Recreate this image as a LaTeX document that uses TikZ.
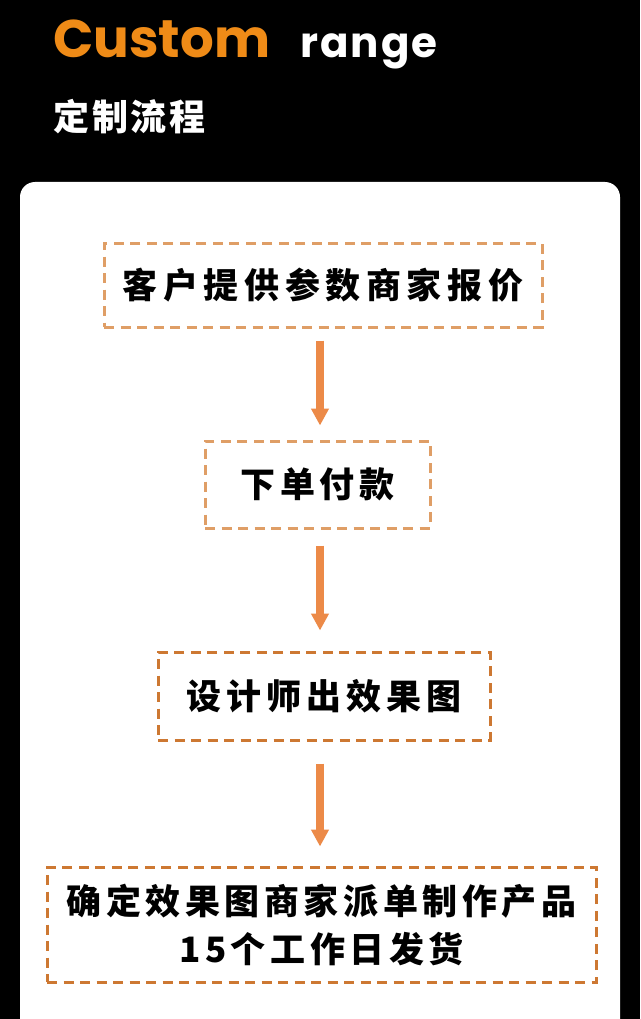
\documentclass[tikz,border=0pt]{standalone}
\usepackage{fontspec}
\setmainfont{Poppins}
\newfontfamily\cjk{Noto Sans CJK SC}
\usetikzlibrary{arrows.meta}
\definecolor{titleorange}{HTML}{EF8B17}
\definecolor{arrorange}{HTML}{EC8A48}
\definecolor{dashA}{HTML}{DF9E66}
\definecolor{dashB}{HTML}{CD7832}
\tikzset{
  stepbox/.style={draw, line width=3pt, dash pattern=on 10pt off 6.5pt, inner sep=0pt,
    text=black, align=center, font=\cjk\bfseries\fontsize{35}{48}\selectfont},
  flowarrow/.style={draw=arrorange, line width=8pt, -{Triangle[width=17pt,length=17pt]}},
}
\begin{document}
\begin{tikzpicture}[x=1pt,y=-1pt]
\useasboundingbox (0,0) rectangle (640,1019);
\clip (0,0) rectangle (640,1019);
\fill[black] (0,0) rectangle (640,1019);
\fill[white, rounded corners=15pt] (20,182) rectangle (620,1060);
% titles
\node[anchor=base west, inner sep=0pt, text=titleorange, font=\bfseries\fontsize{53}{53}\selectfont] (t1) at (53,58) {Custom};
\node[anchor=base west, inner sep=0pt, text=white, font=\bfseries\fontsize{42}{42}\selectfont\addfontfeature{LetterSpace=5}] (t2) at (300,58) {range};
\node[anchor=west, inner sep=0pt, text=white, font=\cjk\bfseries\fontsize{36}{36}\selectfont\addfontfeature{LetterSpace=8}] (t3) at (53,116.5) {定制流程};
% steps
\node[stepbox, draw=dashA, minimum width=438pt, minimum height=84pt] (b1) at (323,285) {\addfontfeature{LetterSpace=16}客户提供参数商家报价};
\node[stepbox, draw=dashA, minimum width=225pt, minimum height=87pt] (b2) at (317.5,484.5) {\addfontfeature{LetterSpace=14}下单付款};
\node[stepbox, draw=dashB, minimum width=332pt, minimum height=88pt] (b3) at (324,696) {\addfontfeature{LetterSpace=14}设计师出效果图};
\node[stepbox, draw=dashB, minimum width=549pt, minimum height=115pt] (b4) at (321.5,924.5) {\addfontfeature{LetterSpace=13}确定效果图商家派单制作产品\\ \addfontfeature{LetterSpace=13}15个工作日发货};
% arrows
\coordinate (ax) at (320,0);
\draw[flowarrow] ([yshift=-12pt]b1.south -| ax) -- ([yshift=14pt]b2.north -| ax);
\draw[flowarrow] ([yshift=-16pt]b2.south -| ax) -- ([yshift=20pt]b3.north -| ax);
\draw[flowarrow] ([yshift=-22pt]b3.south -| ax) -- ([yshift=19pt]b4.north -| ax);
\end{tikzpicture}
\end{document}
